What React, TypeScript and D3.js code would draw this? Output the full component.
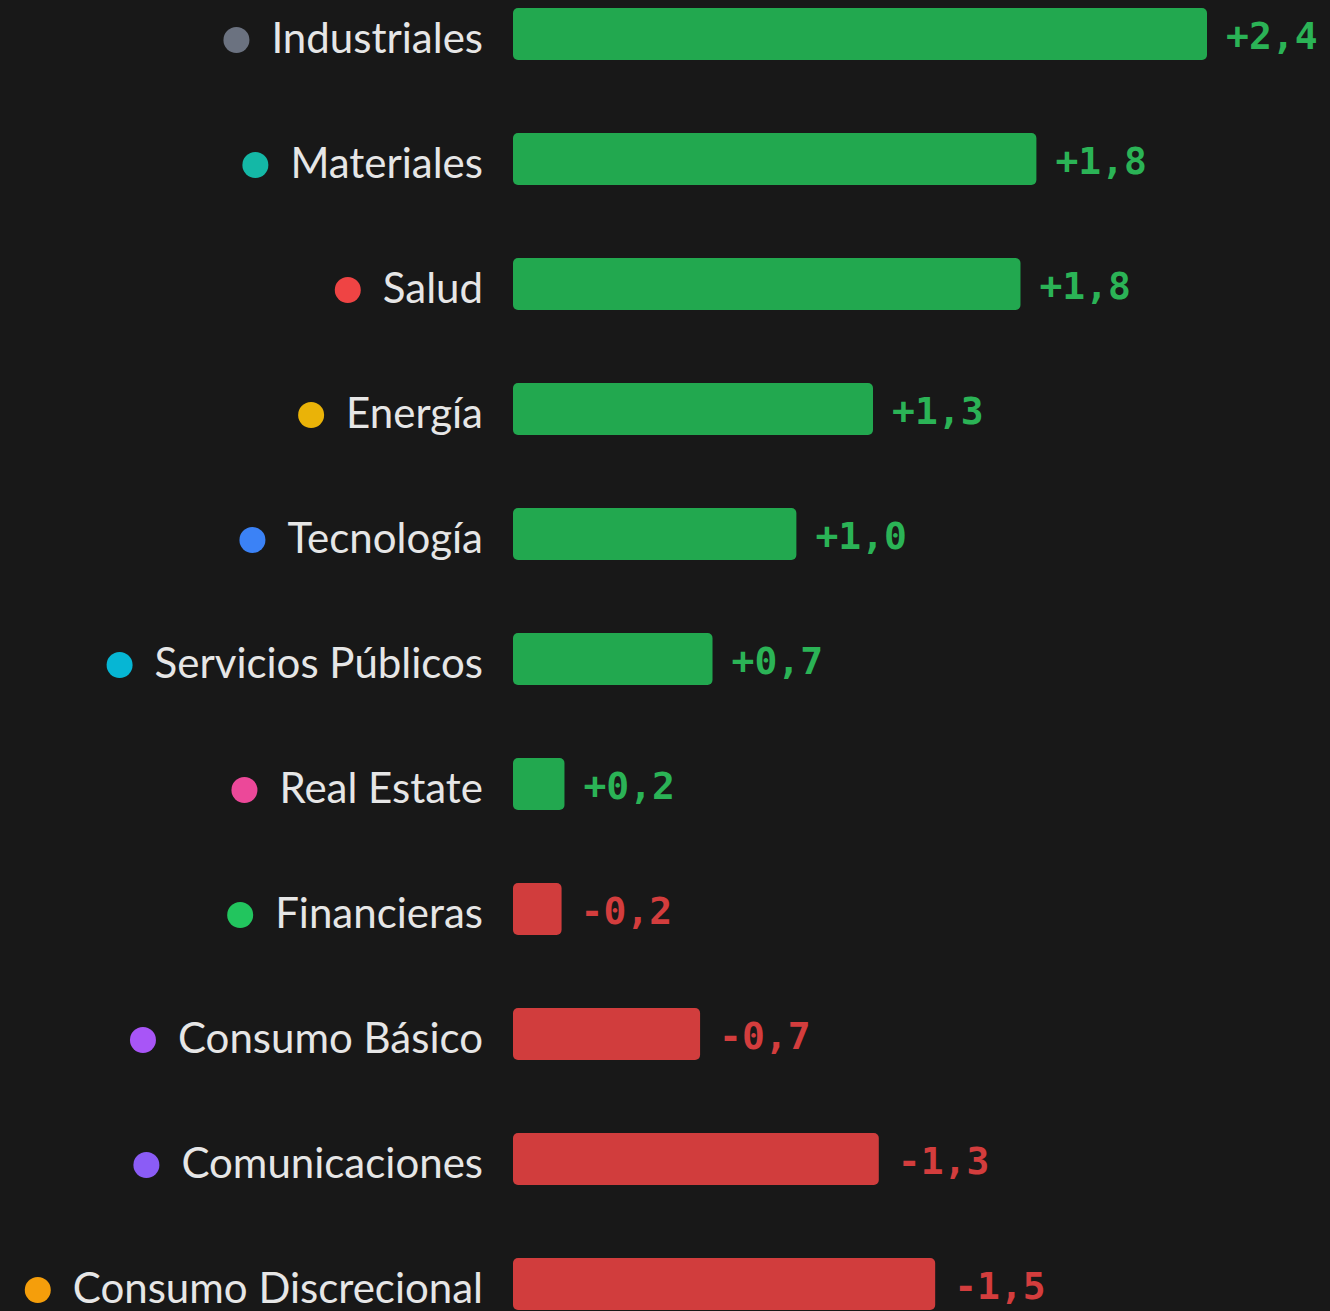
import { useEffect, useRef } from "react";
import * as d3 from "d3";

const sectors = [
  "Industriales",
  "Materiales",
  "Salud",
  "Energía",
  "Tecnología",
  "Servicios Públicos",
  "Real Estate",
  "Financieras",
  "Consumo Básico",
  "Comunicaciones",
  "Consumo Discrecional",
];
const changes = [2.4, 1.81, 1.755, 1.245, 0.98, 0.69, 0.178, -0.168, -0.647, -1.265, -1.46];
const changeLabels = ["+2,4", "+1,8", "+1,8", "+1,3", "+1,0", "+0,7", "+0,2", "-0,2", "-0,7", "-1,3", "-1,5"];
const dotColors = [
  "#6b7280",
  "#14b8a6",
  "#ef4444",
  "#eab308",
  "#3b82f6",
  "#06b6d4",
  "#ec4899",
  "#22c55e",
  "#a855f7",
  "#8b5cf6",
  "#f59e0b",
];

export default function App() {
  const svgRef = useRef<SVGSVGElement>(null);

  useEffect(() => {
    if (!svgRef.current) return;
    const width = 1330;
    const height = 1311;
    const svg = d3.select(svgRef.current);
    svg.selectAll("*").remove();

    svg.append("rect").attr("width", width).attr("height", height).attr("fill", "#181818");

    const x = d3.scaleLinear().domain([0, 2.4]).range([513, 1207]);
    // 11 rows, 125px step, 52px bars
    const y = d3.scaleBand().domain(sectors).range([8, 1310]).paddingInner(73 / 125).paddingOuter(0);

    const rows = svg
      .selectAll("g.row")
      .data(sectors)
      .join("g")
      .attr("class", "row");

    rows
      .append("rect")
      .attr("x", x(0))
      .attr("y", (d) => y(d)!)
      .attr("width", (d, i) => x(Math.abs(changes[i])) - x(0))
      .attr("height", y.bandwidth())
      .attr("rx", 5)
      .attr("fill", (d, i) => (changes[i] >= 0 ? "#22a84f" : "#d13d3d"));

    rows
      .append("text")
      .attr("x", (d, i) => x(Math.abs(changes[i])) + 19)
      .attr("y", (d) => y(d)! + 28)
      .attr("dy", "0.35em")
      .attr("font-family", "'DejaVu Sans Mono', monospace")
      .attr("font-weight", "bold")
      .attr("font-size", 38)
      .attr("fill", (d, i) => (changes[i] >= 0 ? "#2bb356" : "#d33d3d"))
      .text((d, i) => changeLabels[i]);

    const labels = rows
      .append("text")
      .attr("x", 483)
      .attr("y", (d) => y(d)! + 30)
      .attr("dy", "0.36em")
      .attr("text-anchor", "end")
      .attr("font-family", "Lato, 'Open Sans', sans-serif")
      .attr("font-size", 42)
      .attr("fill", "#e6e6e6")
      .text((d) => d);

    labels.each(function (d, i) {
      const w = (this as SVGTextElement).getComputedTextLength();
      d3.select((this as SVGTextElement).parentNode as SVGGElement)
        .append("circle")
        .attr("cx", 483 - w - 35)
        .attr("cy", y(d)! + 32)
        .attr("r", 13)
        .attr("fill", dotColors[i]);
    });
  }, []);

  return (
    <svg
      ref={svgRef}
      width={1330}
      height={1311}
      style={{ position: "absolute", left: 0, top: 0, display: "block" }}
    ></svg>
  );
}
